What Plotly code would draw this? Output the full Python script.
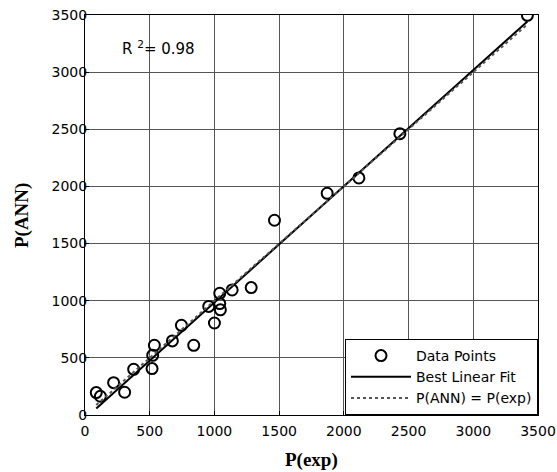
import numpy as np
import plotly.graph_objects as go

# Data
p_exp = [87, 119, 221, 306, 376, 518, 523, 536, 675, 745, 840, 956, 1000, 1041, 1046, 1041,
         1137, 1284, 1464, 1871, 2116, 2433, 3418]
p_ann = [196, 164, 283, 199, 400, 406, 522, 610, 648, 785, 610, 950, 805, 975, 920, 1065,
         1094, 1115, 1704, 1940, 2074, 2462, 3497]
r2_text = "R <sup>2</sup>= 0.98"
ticks = [0, 500, 1000, 1500, 2000, 2500, 3000, 3500]

x = np.array(p_exp, dtype=float)
y = np.array(p_ann, dtype=float)
slope, intercept = np.polyfit(x, y, 1)
fx = np.array([x.min(), x.max()])
fy = slope * fx + intercept

fig = go.Figure()
fig.add_trace(go.Scatter(x=p_exp, y=p_ann, mode="markers", name="Data Points",
                         marker=dict(symbol="circle-open", size=11, color="black",
                                     line=dict(width=2, color="black"))))
fig.add_trace(go.Scatter(x=fx, y=fy, mode="lines", name="Best Linear Fit",
                         line=dict(color="black", width=2)))
fig.add_trace(go.Scatter(x=fx, y=fx, mode="lines", name="P(ANN) = P(exp)",
                         line=dict(color="#555555", width=2, dash="dot")))

sans = "DejaVu Sans, Arial, sans-serif"
tick_font = dict(family=sans, size=14, color="black")
axis_common = dict(range=[0, 3500], tickvals=ticks, showgrid=True, gridcolor="#555555",
                   gridwidth=1, showline=True, linecolor="black", linewidth=1, mirror=True,
                   ticks="inside", ticklen=4, tickcolor="black", zeroline=False,
                   tickfont=tick_font, automargin=False, ticklabeloverflow="allow")
fig.update_xaxes(**axis_common, ticklabelstandoff=3)
fig.update_yaxes(**axis_common, ticklabelstandoff=-6)

title_font = dict(family="Times New Roman, Liberation Serif", size=19, color="black")
fig.add_annotation(x=0.5, y=-0.1125, xref="paper", yref="paper", text="<b>P(exp)</b>",
                   showarrow=False, xanchor="center", yanchor="middle", font=title_font)
fig.add_annotation(x=-0.139, y=0.4975, xref="paper", yref="paper", text="<b>P(ANN)</b>",
                   showarrow=False, xanchor="center", yanchor="middle", textangle=-90,
                   font=title_font)

fig.add_annotation(x=273, y=3210, xref="x", yref="y", text=r2_text, showarrow=False,
                   xanchor="left", yanchor="middle",
                   font=dict(family=sans, size=15, color="black"))

fig.update_layout(width=557, height=472,
                  margin=dict(l=85, r=19, t=15, b=57),
                  paper_bgcolor="white", plot_bgcolor="white",
                  showlegend=True,
                  legend=dict(x=1, y=0, xanchor="right", yanchor="bottom",
                              bgcolor="white", bordercolor="black", borderwidth=1,
                              font=dict(family=sans, size=14, color="black"),
                              tracegroupgap=0, itemwidth=60))
# remove the default page body margin so the figure fills the window exactly
fig.write_html("out.html", config={"displayModeBar": False},
               post_script="document.body.style.margin='0';document.body.style.overflow='hidden';")
